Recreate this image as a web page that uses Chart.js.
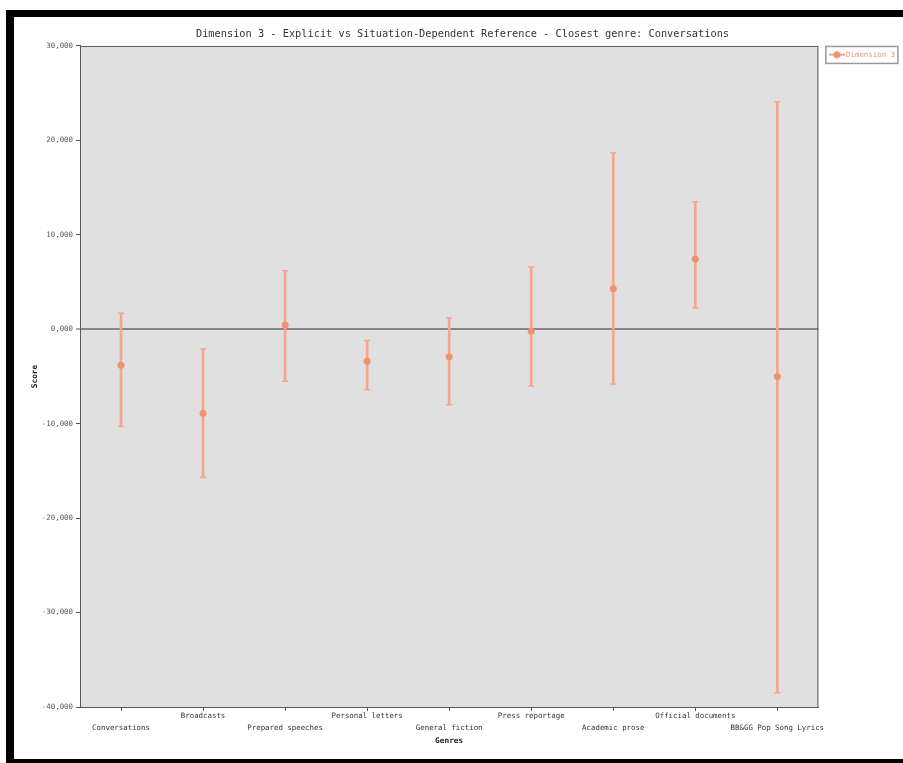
<!DOCTYPE html>
<html>
<head>
<meta charset="utf-8">
<script src="https://cdn.jsdelivr.net/npm/chart.js@4.4.0/dist/chart.umd.min.js"></script>
<style>
    body { margin: 0; background: #fff; }
    #wrap { position: relative; width: 903px; height: 763px; overflow: hidden; }
    #frame {
        position: absolute; left: 6px; top: 10px; width: 897px; height: 753px;
        border-top: 7px solid #000; border-left: 8px solid #000; border-bottom: 4px solid #000;
        box-sizing: border-box; pointer-events: none;
    }
    canvas { position: absolute; left: 0; top: 0; }
</style>
</head>
<body>
<div id="wrap">
    <canvas id="dimChart" width="903" height="763"></canvas>
    <div id="frame"></div>
</div>
<script>
const genres = ["Conversations", "Broadcasts", "Prepared speeches", "Personal letters", "General fiction",
    "Press reportage", "Academic prose", "Official documents", "BB&GG Pop Song Lyrics"];
const scores = [-3.8, -8.9, 0.45, -3.4, -2.9, -0.2, 4.3, 7.45, -5.0];
const lowValues = [-10.3, -15.7, -5.5, -6.4, -8.0, -6.0, -5.8, 2.25, -38.5];
const highValues = [1.7, -2.1, 6.2, -1.2, 1.2, 6.6, 18.7, 13.5, 24.1];
const yMin = -40;
const yMax = 30;
const yStep = 10;

const mono = "'DejaVu Sans Mono', 'Liberation Mono', monospace";
const pointColor = "#f09272";
const whiskerColor = "#f4a78e";

// alternate the category labels over two rows, like the original
const xLabels = genres.map((g, i) => i % 2 ? [g, ""] : ["", g]);

// legend symbol: line with a dot in the middle
const legendIcon = document.createElement("canvas");
legendIcon.width = 26;
legendIcon.height = 10;
(function () {
    const c = legendIcon.getContext("2d");
    c.strokeStyle = whiskerColor;
    c.lineWidth = 2;
    c.beginPath();
    c.moveTo(9, 5);
    c.lineTo(25, 5);
    c.stroke();
    c.fillStyle = pointColor;
    c.beginPath();
    c.arc(17, 5, 3.5, 0, Math.PI * 2);
    c.fill();
})();

const plotFrame = {
    id: "plotFrame",
    beforeDraw(chart) {
        const { ctx, chartArea: a } = chart;
        ctx.save();
        ctx.fillStyle = "#e0e0e0";
        ctx.fillRect(a.left, a.top, a.right - a.left, a.bottom - a.top);
        ctx.restore();
    },
    afterDraw(chart) {
        const { ctx, chartArea: a, legend } = chart;
        ctx.save();
        ctx.strokeStyle = "#5a5a5a";
        ctx.lineWidth = 1;
        ctx.strokeRect(a.left + 0.5, a.top + 0.5, a.right - a.left - 1, a.bottom - a.top);
        if (legend) {
            ctx.strokeStyle = "#999";
            ctx.lineWidth = 1.5;
            ctx.strokeRect(legend.left + 7.5, legend.top + 0.5, 72, 17);
        }
        ctx.restore();
    }
};

new Chart(document.getElementById("dimChart"), {
    data: {
        labels: xLabels,
        datasets: [
            {
                type: "line",
                label: "Dimension 3",
                data: scores,
                showLine: false,
                pointRadius: 3.5,
                pointHoverRadius: 3.5,
                pointBackgroundColor: pointColor,
                pointBorderWidth: 0,
                order: 0
            },
            {
                type: "line",
                label: "high",
                data: highValues,
                showLine: false,
                pointStyle: "line",
                pointRadius: 3,
                pointBorderColor: whiskerColor,
                pointBorderWidth: 1.5,
                order: 1
            },
            {
                type: "line",
                label: "low",
                data: lowValues,
                showLine: false,
                pointStyle: "line",
                pointRadius: 3,
                pointBorderColor: whiskerColor,
                pointBorderWidth: 1.5,
                order: 1
            },
            {
                type: "bar",
                label: "range",
                data: lowValues.map((l, i) => [l, highValues[i]]),
                barThickness: 2,
                backgroundColor: whiskerColor,
                borderWidth: 0,
                order: 2
            }
        ]
    },
    options: {
        responsive: false,
        animation: false,
        layout: { padding: { left: 20, right: -2, top: 17, bottom: 0 } },
        plugins: {
            title: {
                display: true,
                text: "Dimension 3 - Explicit vs Situation-Dependent Reference - Closest genre: Conversations",
                color: "#333",
                font: { family: mono, size: 10.3, weight: "normal" },
                padding: { top: 10.8, bottom: 5.8 }
            },
            legend: {
                display: true,
                position: "right",
                align: "start",
                fullSize: false,
                labels: {
                    usePointStyle: true,
                    pointStyleWidth: 19,
                    padding: 5,
                    color: "#eb9c80",
                    font: { family: mono, size: 7.4 },
                    generateLabels: () => [{
                        text: "Dimension 3",
                        pointStyle: legendIcon,
                        fontColor: "#eb9c80",
                        fillStyle: "transparent",
                        strokeStyle: "transparent",
                        lineWidth: 0,
                        hidden: false,
                        datasetIndex: 0
                    }]
                }
            },
            tooltip: { enabled: false }
        },
        scales: {
            x: {
                type: "category",
                offset: true,
                afterFit: s => { s.height = 56; },
                grid: { display: true, drawOnChartArea: false, offset: false, tickLength: 4, tickColor: "#555" },
                border: { display: true, color: "#5a5a5a" },
                ticks: {
                    autoSkip: false, maxRotation: 0, minRotation: 0, padding: 0,
                    color: "#333",
                    font: { family: mono, size: 7.4, lineHeight: 1.5 }
                },
                title: {
                    display: true, text: "Genres", color: "#222",
                    font: { family: mono, size: 7.8, weight: "bold" },
                    padding: { top: 0, bottom: 17.8 }
                }
            },
            y: {
                min: yMin,
                max: yMax,
                afterFit: s => { s.width = 60; },
                grid: {
                    drawOnChartArea: true,
                    tickLength: 4,
                    tickColor: "#555",
                    tickWidth: 1,
                    color: c => c.tick && c.tick.value === 0 ? "#858585" : "transparent",
                    lineWidth: c => c.tick && c.tick.value === 0 ? 2 : 1
                },
                border: { display: true, color: "#5a5a5a" },
                ticks: {
                    stepSize: yStep,
                    padding: 3,
                    color: "#555",
                    font: { family: mono, size: 7.4 },
                    callback: v => v.toFixed(3).replace(".", ",")
                },
                title: {
                    display: true, text: "Score", color: "#222",
                    font: { family: mono, size: 7.8, weight: "bold" },
                    padding: { top: 10.3, bottom: 0 }
                }
            }
        }
    },
    plugins: [plotFrame]
});
</script>
</body>
</html>
